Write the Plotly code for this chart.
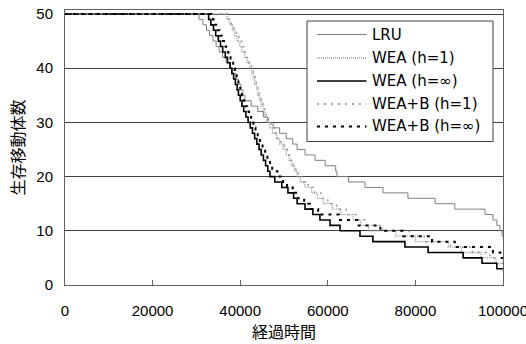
import plotly.graph_objects as go

# ---- data: times (x) at which the count changes, and the counts after the change ----
lru_t = [0, 30600, 31500, 32300, 33000, 33800, 34500, 35200, 36000, 36800, 37600,
         38300, 39000, 39600, 40200, 40600, 41100, 42500, 44000, 45300, 46300,
         47500, 49000, 50500, 52000, 53000, 54800, 57100, 59400, 61800, 62100,
         64700, 68500, 72600, 78300, 84500, 89000, 95900, 97700, 98600, 99300, 99800, 100000]
lru_n = [50, 49, 48, 47, 46, 45, 44, 43, 42, 41, 40,
         39, 38, 37, 36, 35, 34, 33, 32, 31, 30,
         29, 28, 27, 26, 25, 24, 23, 22, 21, 20,
         19, 18, 17, 16, 15, 14, 13, 12, 11, 10, 9, 9]

wea1_t = [0, 37000, 37600, 38200, 38700, 39300, 39900, 40400, 41000, 41600, 42200,
          42600, 43000, 43300, 43700, 44000, 44400, 44800, 45200, 45600, 46000,
          46700, 47400, 48200, 49000, 49800, 50500, 51200, 51800, 52400, 53000,
          53700, 54800, 56300, 57600, 59000, 61000, 63000, 65800, 67500, 69300,
          75500, 80000, 87500, 90500, 95000, 98400, 100000]
wea1_n = [50, 49, 48, 47, 46, 45, 44, 43, 42, 41, 40,
          39, 38, 37, 36, 35, 34, 33, 32, 31, 30,
          29, 28, 27, 26, 25, 24, 23, 22, 21, 20,
          19, 18, 17, 16, 15, 14, 13, 12, 11, 10,
          9, 8, 7, 6, 5, 4, 4]

weainf_t = [0, 32800, 33300, 33900, 34400, 35000, 35500, 36000, 36600, 37100, 37700,
            38100, 38500, 38900, 39300, 39600, 40000, 40400, 40800, 41300, 41800,
            42300, 42800, 43300, 43800, 44300, 44800, 45300, 45800, 46300, 46800,
            47900, 49500, 50900, 52200, 53000, 54800, 56600, 58200, 60500, 62800,
            67350, 70300, 77600, 82900, 90900, 95200, 98600, 100000]
weainf_n = [50, 49, 48, 47, 46, 45, 44, 43, 42, 41, 40,
            39, 38, 37, 36, 35, 34, 33, 32, 31, 30,
            29, 28, 27, 26, 25, 24, 23, 22, 21, 20,
            19, 18, 17, 16, 15, 14, 13, 12, 11, 10,
            9, 8, 7, 6, 5, 4, 3, 3]

weab1_t = [0, 37400, 38000, 38600, 39100, 39700, 40300, 40800, 41400, 42000, 42600,
           43000, 43400, 43700, 44100, 44400, 44800, 45200, 45600, 46000, 46500,
           47100, 47800, 48500, 49300, 50100, 50800, 51500, 52100, 52700, 53300,
           54200, 55500, 57000, 58400, 60000, 62000, 64200, 66500, 68500, 72500,
           78500, 82000, 88000, 93000, 97000, 99600, 100000]
weab1_n = [50, 49, 48, 47, 46, 45, 44, 43, 42, 41, 40,
           39, 38, 37, 36, 35, 34, 33, 32, 31, 30,
           29, 28, 27, 26, 25, 24, 23, 22, 21, 20,
           19, 18, 17, 16, 15, 14, 13, 12, 11, 10,
           9, 8, 7, 6, 5, 4, 4]

weabinf_t = [0, 33800, 34300, 34800, 35300, 35800, 36300, 36800, 37300, 37800, 38400,
             38800, 39200, 39600, 40000, 40400, 40800, 41200, 41600, 42000, 42500,
             43000, 43500, 44000, 44500, 45100, 45700, 46200, 46800, 47300, 48500,
             49800, 50700, 52000, 53200, 54600, 55900, 57800, 62500, 66800, 72000,
             77200, 83800, 89000, 97700, 99400, 100000]
weabinf_n = [50, 49, 48, 47, 46, 45, 44, 43, 42, 41, 40,
             39, 38, 37, 36, 35, 34, 33, 32, 31, 30,
             29, 28, 27, 26, 25, 24, 23, 22, 21, 20,
             19, 18, 17, 16, 15, 14, 13, 12, 11, 10,
             9, 8, 7, 6, 5, 5]

series_names = ["LRU", "WEA (h=1)", "WEA (h=∞)", "WEA+B (h=1)", "WEA+B (h=∞)"]
x_ticks = [0, 20000, 40000, 60000, 80000, 100000]
y_ticks = [0, 10, 20, 30, 40, 50]

styles = [
    dict(color="#7f7f7f", width=1, dash="solid"),
    dict(color="#9a9a9a", width=1.3, dash="1px,1px"),
    dict(color="#000000", width=1.6, dash="solid"),
    dict(color="#8c8c8c", width=1.3, dash="2px,5px"),
    dict(color="#000000", width=2, dash="3px,5px"),
]
data = [(lru_t, lru_n), (wea1_t, wea1_n), (weainf_t, weainf_n),
        (weab1_t, weab1_n), (weabinf_t, weabinf_n)]

fig = go.Figure()
for name, (t, n), ln in zip(series_names, data, styles):
    fig.add_trace(go.Scatter(x=t, y=n, mode="lines", name=name,
                             line=dict(shape="hv", **ln), showlegend=False))

# ---- legend drawn in paper coordinates (pixel layout of the reference) ----
W, H = 526, 344
ml, mr, mt, mb = 65, 23, 10, 59
pw, ph = W - ml - mr, H - mt - mb
def px(x):
    return (x - ml) / pw
def py(y):
    return (H - mb - y) / ph

shapes = [dict(type="rect", xref="paper", yref="paper",
               x0=px(307), x1=px(493), y0=py(141.5), y1=py(21),
               line=dict(color="#404040", width=1), fillcolor="white", layer="above")]
annotations = []
row_y = [34.5, 58, 81, 104, 126.5]
for name, ln, ry in zip(series_names, styles, row_y):
    shapes.append(dict(type="line", xref="paper", yref="paper",
                       x0=px(317), x1=px(366.5), y0=py(ry), y1=py(ry),
                       line=dict(color=ln["color"], width=ln["width"], dash=ln["dash"]),
                       layer="above"))
    annotations.append(dict(xref="paper", yref="paper", x=px(370), y=py(ry),
                            xanchor="left", yanchor="middle", showarrow=False,
                            text=name,
                            font=dict(family="DejaVu Sans", size=15, color="black")))

fig.update_layout(
    width=W, height=H,
    margin=dict(l=ml, r=mr, t=mt, b=mb, autoexpand=False),
    paper_bgcolor="white", plot_bgcolor="white",
    font=dict(family="Liberation Sans, Arial, sans-serif", size=15, color="black"),
    showlegend=False,
    shapes=shapes, annotations=annotations,
)
fig.update_xaxes(
    range=[0, 100000], tickvals=x_ticks, ticktext=[str(v) for v in x_ticks],
    showgrid=False, zeroline=False, automargin=False,
    showline=True, linecolor="#606060", linewidth=1, mirror=True,
    ticks="inside", ticklen=5, tickcolor="#606060",
    ticklabelstandoff=12, ticklabeloverflow="allow",
    title=dict(text="経過時間", font=dict(family="Noto Sans CJK JP", size=16), standoff=5),
)
fig.update_yaxes(
    range=[0, 50.74], tickvals=y_ticks, ticktext=[str(v) for v in y_ticks],
    showgrid=True, gridcolor="#404040", gridwidth=1, zeroline=False, automargin=False,
    showline=True, linecolor="#606060", linewidth=1, mirror=True,
    ticks="", ticklabelstandoff=8,
    title=dict(text="生存移動体数", font=dict(family="Noto Sans CJK JP", size=16), standoff=7),
)
fig.write_html("out.html")
